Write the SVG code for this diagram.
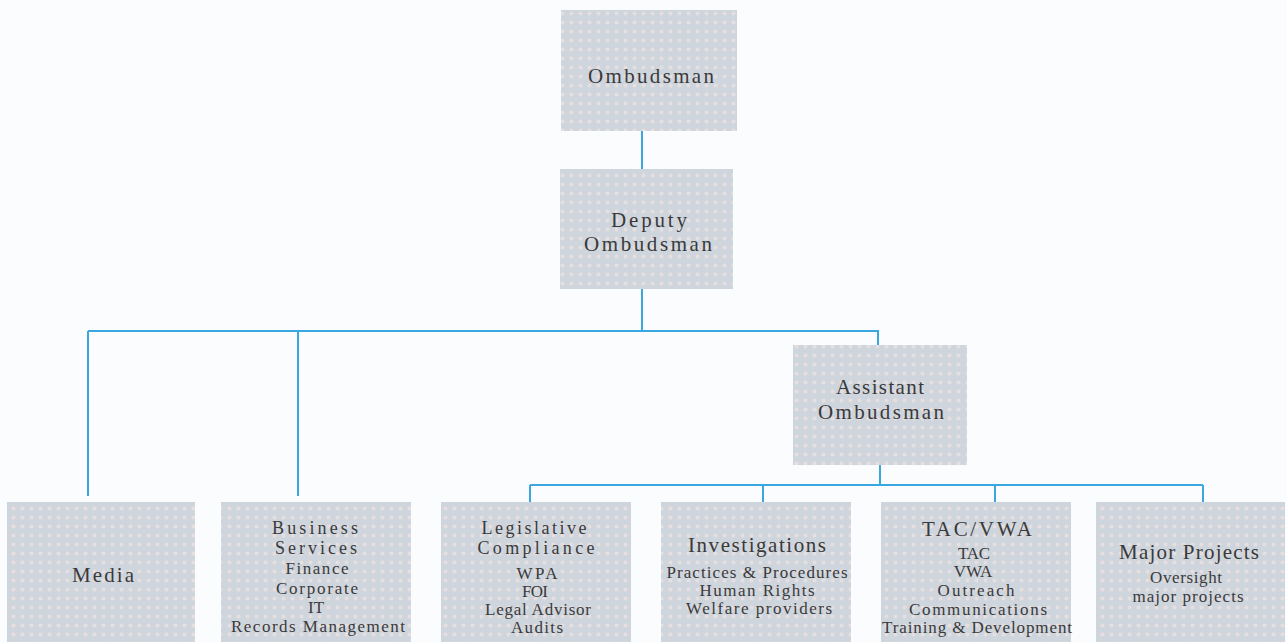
<svg xmlns="http://www.w3.org/2000/svg" width="1287" height="642" viewBox="0 0 1287 642">
<defs>
<pattern id="dots" width="9" height="9" patternUnits="userSpaceOnUse">
<rect width="9" height="9" fill="#cfd5dd"/>
<circle cx="4.5" cy="4.5" r="2" fill="#e6dedf"/>
</pattern>
<style>
.box{fill:url(#dots);}
.t{font-family:"Liberation Serif",serif;fill:#3a3a3a;text-anchor:middle;}
.h{font-size:21px;}
.h2{font-size:18px;}
.s{font-size:17px;}
.c{stroke:#3ba7e0;stroke-width:2;fill:none;}
</style>
</defs>
<rect width="1287" height="642" fill="#fbfcfe"/>
<g id="connectors">
<path class="c" d="M642 131V169M642 289V331M88 331H878V345M88 331V496M298 331V496M880 465V485M530 485H1203M530 485V502M763 485V502M995 485V502M1203 485V502"/>
</g>
<g id="ombudsman">
<rect class="box" x="561" y="10" width="176" height="121"/>
<text class="t h" x="651" y="83" textLength="126" lengthAdjust="spacing">Ombudsman</text>
</g>
<g id="deputy">
<rect class="box" x="560" y="169" width="173" height="120"/>
<text class="t h" x="649" y="227" textLength="76" lengthAdjust="spacing">Deputy</text>
<text class="t h" x="648" y="251" textLength="128" lengthAdjust="spacing">Ombudsman</text>
</g>
<g id="assistant">
<rect class="box" x="793" y="345" width="174" height="120"/>
<text class="t h" x="880" y="394" textLength="88" lengthAdjust="spacing">Assistant</text>
<text class="t h" x="881" y="419" textLength="126" lengthAdjust="spacing">Ombudsman</text>
</g>
<g id="media">
<rect class="box" x="7" y="502" width="188" height="140"/>
<text class="t h" x="103" y="582" textLength="62" lengthAdjust="spacing">Media</text>
</g>
<g id="business">
<rect class="box" x="221" y="502" width="190" height="140"/>
<text class="t h2" x="315" y="534" textLength="86" lengthAdjust="spacing">Business</text>
<text class="t h2" x="316" y="554" textLength="82" lengthAdjust="spacing">Services</text>
<text class="t s" x="317" y="574" textLength="63" lengthAdjust="spacing">Finance</text>
<text class="t s" x="317" y="594" textLength="82" lengthAdjust="spacing">Corporate</text>
<text class="t s" x="316" y="613">IT</text>
<text class="t s" x="318" y="632" textLength="174" lengthAdjust="spacing">Records Management</text>
</g>
<g id="legislative">
<rect class="box" x="441" y="502" width="190" height="140"/>
<text class="t h2" x="534" y="534" textLength="105" lengthAdjust="spacing">Legislative</text>
<text class="t h2" x="536" y="554" textLength="117" lengthAdjust="spacing">Compliance</text>
<text class="t s" x="537" y="579" textLength="41" lengthAdjust="spacing">WPA</text>
<text class="t s" x="535" y="597" textLength="26" lengthAdjust="spacing">FOI</text>
<text class="t s" x="538" y="615" textLength="106" lengthAdjust="spacing">Legal Advisor</text>
<text class="t s" x="537" y="633" textLength="52" lengthAdjust="spacing">Audits</text>
</g>
<g id="investigations">
<rect class="box" x="661" y="502" width="190" height="140"/>
<text class="t h" x="757" y="552" textLength="138" lengthAdjust="spacing">Investigations</text>
<text class="t s" x="757" y="578" textLength="181" lengthAdjust="spacing">Practices &amp; Procedures</text>
<text class="t s" x="757" y="596" textLength="115" lengthAdjust="spacing">Human Rights</text>
<text class="t s" x="759" y="614" textLength="146" lengthAdjust="spacing">Welfare providers</text>
</g>
<g id="tacvwa">
<rect class="box" x="881" y="502" width="190" height="140"/>
<text class="t h" x="977" y="536" textLength="110" lengthAdjust="spacing">TAC/VWA</text>
<text class="t s" x="974" y="559" textLength="32" lengthAdjust="spacing">TAC</text>
<text class="t s" x="973" y="577">VWA</text>
<text class="t s" x="976" y="596" textLength="77" lengthAdjust="spacing">Outreach</text>
<text class="t s" x="978" y="615" textLength="138" lengthAdjust="spacing">Communications</text>
<text class="t s" x="977" y="633" textLength="190" lengthAdjust="spacing">Training &amp; Development</text>
</g>
<g id="major">
<rect class="box" x="1096" y="502" width="189" height="140"/>
<text class="t h" x="1189" y="559" textLength="140" lengthAdjust="spacing">Major Projects</text>
<text class="t s" x="1186" y="583" textLength="72" lengthAdjust="spacing">Oversight</text>
<text class="t s" x="1188" y="602" textLength="111" lengthAdjust="spacing">major projects</text>
</g>
</svg>
